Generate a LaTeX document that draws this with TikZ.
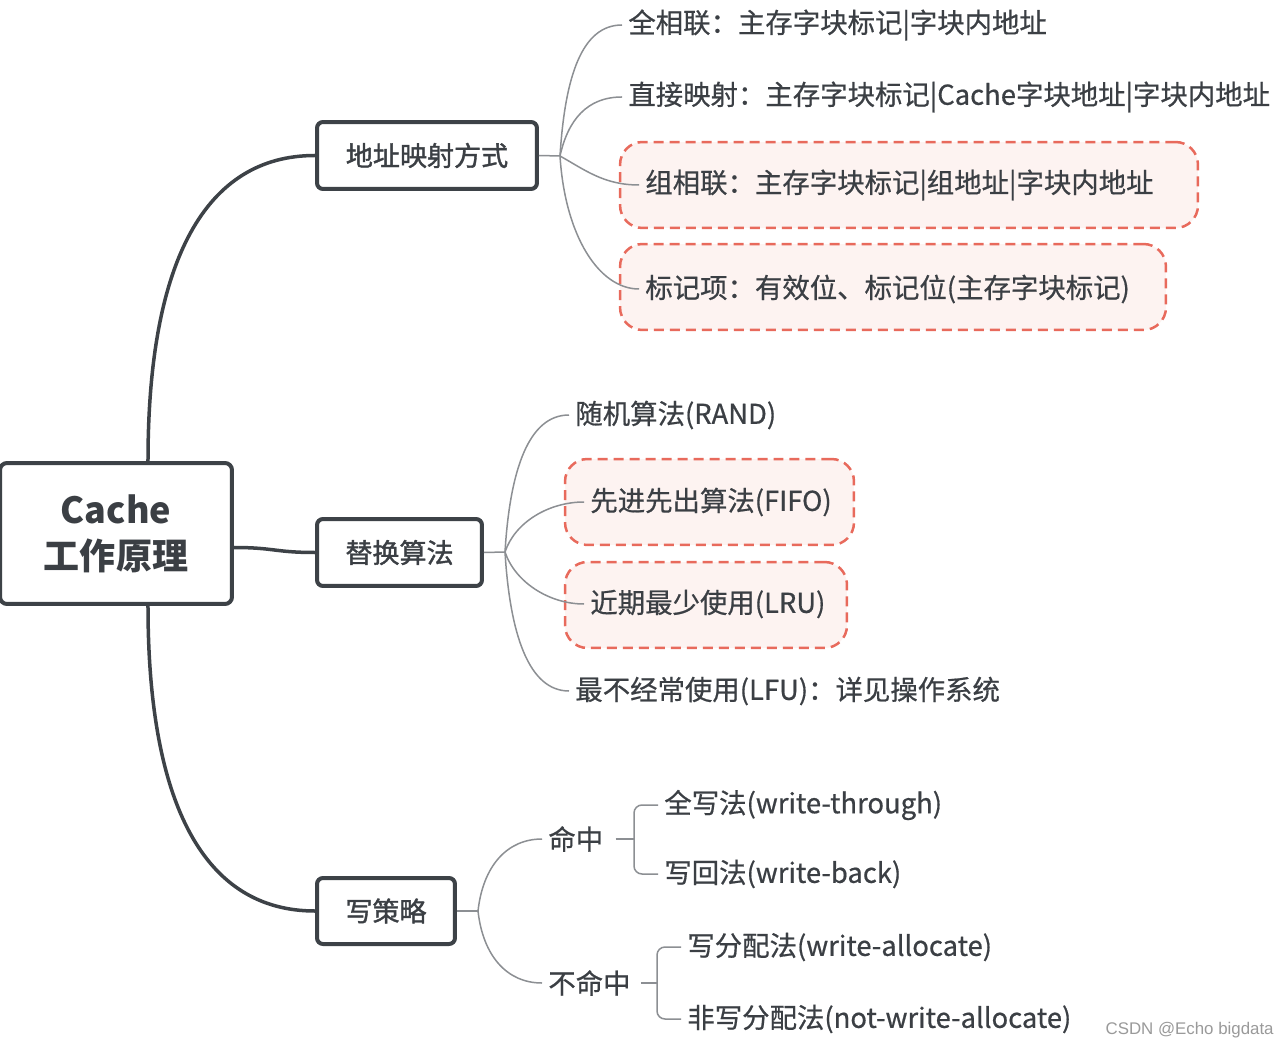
\documentclass[tikz,border=0pt]{standalone}
\usepackage{fontspec}
\setmainfont{Noto Sans CJK SC}
\newfontfamily\leaffont[FakeBold=0.6]{Noto Sans CJK SC}
\newfontfamily\topicfont[FakeBold=1.4]{Noto Sans CJK SC}
\newfontfamily\markfont{Liberation Sans}
\definecolor{boxline}{HTML}{3D4247}
\definecolor{textgray}{HTML}{3B3F44}
\definecolor{twiggray}{HTML}{8C8F93}
\definecolor{markred}{HTML}{E86A5C}
\definecolor{markfill}{HTML}{FDF3F1}
\definecolor{wmgray}{HTML}{9A9A9A}

\begin{document}
\begin{tikzpicture}[x=0.02cm, y=-0.02cm,
    rootbox/.style={draw=boxline, line width=0.08cm, rounded corners=0.14cm, fill=white,
      minimum width=4.64cm, minimum height=2.82cm, align=center, text=textgray,
      font=\bfseries\fontsize{20.5}{26}\selectfont},
    topicbox/.style={draw=boxline, line width=0.08cm, rounded corners=0.12cm, fill=white,
      minimum height=1.34cm, text=textgray, font=\topicfont\fontsize{15.4}{18}\selectfont},
    markbox/.style={draw=markred, fill=markfill, line width=0.05cm, dash pattern=on 0.2cm off 0.12cm,
      rounded corners=0.45cm, minimum height=1.72cm},
    leaf/.style={anchor=west, inner xsep=0.12cm, inner ysep=0pt, text=textgray,
      font=\leaffont\fontsize{15.6}{18}\selectfont},
    mainline/.style={draw=boxline, line width=0.07cm},
    twig/.style={draw=twiggray, line width=0.03cm}]
        \useasboundingbox (0,0) rectangle (1287,1050);
        \fill[white] (0,0) rectangle (1287,1050);

        % Highlighted leaves
        \node[markbox, minimum width=11.56cm] (setbox) at (909,185) {};
        \node[markbox, minimum width=10.92cm] (tagbox) at (893,287) {};
        \node[markbox, minimum width=5.78cm] (fifobox) at (709.5,502) {};
        \node[markbox, minimum width=5.64cm] (lrubox) at (706,605) {};

        % Root and topics
        \node[rootbox] (root) at (116,533.5) {Cache\\工作原理};
        \node[topicbox, minimum width=4.4cm] (addr) at (427,155.5) {地址映射方式};
        \node[topicbox, minimum width=3.3cm] (repl) at (399.5,552.5) {替换算法};
        \node[topicbox, minimum width=2.76cm, minimum height=1.32cm] (write) at (386,911) {写策略};

        % Address mapping leaves
        \node[leaf] (full) at (622,25) {全相联：主存字块标记|字块内地址};
        \node[leaf] (direct) at (622,97) {直接映射：主存字块标记|Cache字块地址|字块内地址};
        \node[leaf] (setassoc) at (639,185) {组相联：主存字块标记|组地址|字块内地址};
        \node[leaf] (tag) at (639,289) {标记项：有效位、标记位(主存字块标记)};

        % Replacement leaves
        \node[leaf] (rand) at (569,415) {随机算法(RAND)};
        \node[leaf] (fifo) at (584,502) {先进先出算法(FIFO)};
        \node[leaf] (lru) at (584,604) {近期最少使用(LRU)};
        \node[leaf] (lfu) at (569,691) {最不经常使用(LFU)：详见操作系统};

        % Write policy leaves
        \node[leaf] (hit) at (542,839) {命中};
        \node[leaf] (miss) at (542,983) {不命中};
        \node[leaf] (through) at (658,805) {全写法(write-through)};
        \node[leaf] (back) at (658,874) {写回法(write-back)};
        \node[leaf] (alloc) at (681,947) {写分配法(write-allocate)};
        \node[leaf] (noalloc) at (681,1019) {非写分配法(not-write-allocate)};

        % Root connectors
        \draw[mainline] ([xshift=0.64cm]root.north) .. controls +(0,-200) and +(-110,0) .. (addr.west);
        \draw[mainline] ([yshift=-0.28cm]root.east) .. controls +(40,0) and +(-40,0) .. (repl.west);
        \draw[mainline] ([xshift=0.64cm]root.south) .. controls +(0,200) and +(-110,0) .. (write.west);

        % Address mapping branches
        \coordinate (addrfork) at (560,156);
        \draw[twig] (addr.east) -- (addrfork);
        \draw[twig] (addrfork) .. controls +(5,-80) and +(-40,0) .. (full.west);
        \draw[twig] (addrfork) .. controls +(8,-36) and +(-35,0) .. (direct.west);
        \draw[twig] (addrfork) .. controls +(25,14) and +(-35,0) .. (setassoc.west);
        \draw[twig] (addrfork) .. controls +(5,80) and +(-40,0) .. (tag.west);

        % Replacement branches
        \coordinate (replfork) at (505,552);
        \draw[twig] (repl.east) -- (replfork);
        \draw[twig] (replfork) .. controls +(5,-83) and +(-40,0) .. (rand.west);
        \draw[twig] (replfork) .. controls +(10,-30) and +(-35,0) .. (fifo.west);
        \draw[twig] (replfork) .. controls +(10,30) and +(-35,0) .. (lru.west);
        \draw[twig] (replfork) .. controls +(5,83) and +(-40,0) .. (lfu.west);

        % Write policy branches
        \coordinate (writefork) at (478,911);
        \draw[twig] (write.east) -- (writefork);
        \draw[twig] (writefork) .. controls +(5,-45) and +(-35,0) .. (hit.west);
        \draw[twig] (writefork) .. controls +(5,45) and +(-35,0) .. (miss.west);

        \coordinate (hitfork) at (634,839);
        \draw[twig] ([xshift=0.12cm]hit.east) -- (hitfork);
        \draw[twig, rounded corners=0.16cm] (through.west) -| (hitfork) |- (back.west);
        \coordinate (missfork) at (657,983);
        \draw[twig] ([xshift=0.08cm]miss.east) -- (missfork);
        \draw[twig, rounded corners=0.16cm] (alloc.west) -| (missfork) |- (noalloc.west);

        % Watermark
        \node[anchor=east, inner sep=0pt, text=wmgray, font=\markfont\fontsize{9.6}{11}\selectfont] (mark) at (1274,1030) {CSDN @Echo bigdata};
\end{tikzpicture}
\end{document}
